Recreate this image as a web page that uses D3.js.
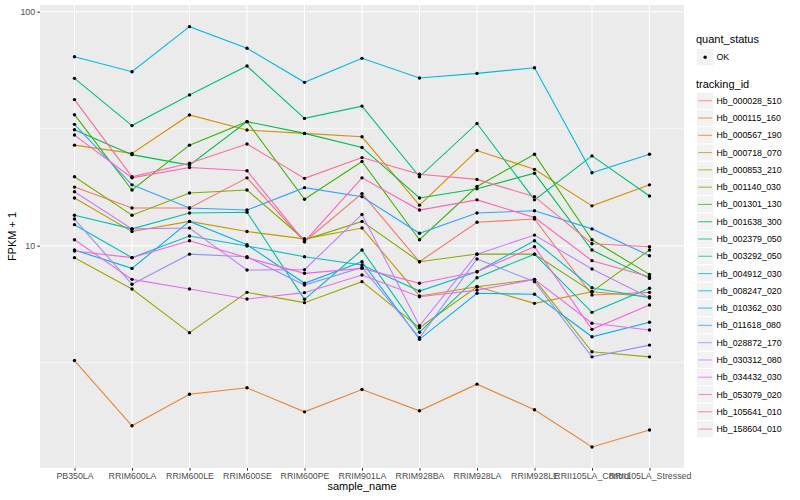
<!DOCTYPE html>
<html>
<head>
<meta charset="utf-8">
<script src="https://d3js.org/d3.v7.min.js"></script>
<style>
  body { margin: 0; background: #fff; }
  text { font-family: "Liberation Sans", Arial, Helvetica, sans-serif; }
</style>
</head>
<body>
<svg id="chart" width="800" height="500"></svg>
<script>
// samples on the x axis
const samples = ["PB350LA", "RRIM600LA", "RRIM600LE", "RRIM600SE", "RRIM600PE", "RRIM901LA",
  "RRIM928BA", "RRIM928LA", "RRIM928LE", "RRII105LA_Control", "RRII105LA_Stressed"];

const trackingIds = ["Hb_000028_510", "Hb_000115_160", "Hb_000567_190", "Hb_000718_070", "Hb_000853_210",
  "Hb_001140_030", "Hb_001301_130", "Hb_001638_300", "Hb_002379_050", "Hb_003292_050",
  "Hb_004912_030", "Hb_008247_020", "Hb_010362_030", "Hb_011618_080", "Hb_028872_170",
  "Hb_030312_080", "Hb_034432_030", "Hb_053079_020", "Hb_105641_010", "Hb_158604_010"];

// FPKM + 1, one array per gene, in sample order
const hb_000028_510 = [17.8, 14.5, 14.5, 19.5, 10.4, 16.7, 8.54, 12.6, 13.0, 6.16, 6.32];
const hb_000115_160 = [3.23, 1.70, 2.32, 2.47, 1.95, 2.43, 1.97, 2.56, 1.99, 1.38, 1.63];
const hb_000567_190 = [26.9, 24.8, 36.2, 31.2, 30.2, 29.2, 14.9, 25.5, 21.2, 14.8, 18.2];
const hb_000718_070 = [16.0, 11.5, 12.7, 11.5, 10.7, 11.9, 6.10, 6.68, 5.67, 6.36, 6.05];
const hb_000853_210 = [8.89, 6.53, 4.25, 6.32, 5.71, 7.02, 4.46, 6.68, 7.18, 3.52, 3.35];
const hb_001140_030 = [19.7, 13.5, 16.8, 17.3, 10.6, 12.7, 8.54, 9.21, 9.20, 6.36, 9.58];
const hb_001301_130 = [36.3, 17.3, 26.9, 33.9, 15.8, 22.9, 10.6, 17.9, 24.6, 10.6, 7.54];
const hb_001638_300 = [31.3, 24.5, 22.1, 33.9, 30.2, 26.3, 16.0, 17.5, 20.4, 9.58, 7.25];
const hb_002379_050 = [51.9, 32.6, 44.1, 58.6, 35.0, 39.5, 19.7, 33.3, 15.7, 24.2, 16.3];
const hb_003292_050 = [13.5, 11.8, 13.8, 13.9, 5.90, 9.58, 4.27, 7.30, 9.20, 5.19, 6.58];
const hb_004912_030 = [12.3, 8.89, 11.0, 9.97, 8.97, 8.27, 6.40, 7.74, 10.5, 6.61, 5.99];
const hb_008247_020 = [64.2, 55.4, 86.3, 69.8, 49.9, 63.2, 52.1, 54.5, 57.6, 20.5, 24.6];
const hb_010362_030 = [9.58, 8.00, 12.7, 10.1, 6.91, 8.54, 3.98, 6.26, 6.20, 4.08, 4.71];
const hb_011618_080 = [33.0, 18.2, 14.5, 14.2, 17.7, 16.2, 11.3, 13.8, 14.1, 11.8, 9.06];
const hb_028872_170 = [13.0, 6.84, 9.20, 8.97, 6.79, 8.08, 4.04, 8.77, 7.02, 3.35, 3.76];
const hb_030312_080 = [17.0, 11.8, 11.9, 7.87, 7.90, 13.6, 4.55, 9.20, 11.1, 7.95, 5.99];
const hb_034432_030 = [10.6, 7.18, 6.53, 5.92, 6.30, 7.49, 6.05, 6.46, 7.18, 4.66, 4.36];
const hb_053079_020 = [9.49, 8.89, 10.5, 8.89, 7.62, 8.00, 6.91, 7.74, 9.90, 4.39, 5.58];
const hb_105641_010 = [29.7, 19.5, 21.6, 20.9, 10.4, 19.5, 14.2, 15.7, 13.2, 8.63, 7.37];
const hb_158604_010 = [42.1, 19.7, 22.5, 27.2, 19.4, 23.8, 20.2, 19.2, 16.2, 10.2, 9.90];

const geneValues = [hb_000028_510, hb_000115_160, hb_000567_190, hb_000718_070, hb_000853_210,
  hb_001140_030, hb_001301_130, hb_001638_300, hb_002379_050, hb_003292_050,
  hb_004912_030, hb_008247_020, hb_010362_030, hb_011618_080, hb_028872_170,
  hb_030312_080, hb_034432_030, hb_053079_020, hb_105641_010, hb_158604_010];

const yTicks = [10, 100];
const yMinor = [Math.sqrt(10), 10 * Math.sqrt(10)];

// ggplot default hue palette for 20 levels
const hueColors = ["#F8766D", "#EA8331", "#D89000", "#C09B00", "#A3A500", "#7CAE00", "#39B600",
  "#00BB4E", "#00BF7D", "#00C1A3", "#00BFC4", "#00BAE0", "#00B0F6", "#35A2FF", "#9590FF",
  "#C77CFF", "#E76BF3", "#FA62DB", "#FF62BC", "#FF6C91"];

const series = trackingIds.map((id, i) => ({
  id: id,
  color: hueColors[i],
  points: samples.map((s, j) => ({ sample: s, value: geneValues[i][j] }))
}));

const svg = d3.select("#chart");
const panel = { left: 40, right: 684, top: 5, bottom: 468 };

const x = d3.scalePoint().domain(samples).range([panel.left, panel.right]).padding(0.6);
const y = d3.scaleLog().domain([Math.pow(10, 0.05), Math.pow(10, 2.02863)]).range([panel.bottom, panel.top]);

// panel background
svg.append("rect")
  .attr("x", panel.left).attr("y", panel.top)
  .attr("width", panel.right - panel.left).attr("height", panel.bottom - panel.top)
  .attr("fill", "#EBEBEB");

// grid
const grid = svg.append("g");
grid.selectAll(".minor").data(yMinor).enter().append("line")
  .attr("x1", panel.left).attr("x2", panel.right)
  .attr("y1", d => y(d)).attr("y2", d => y(d))
  .attr("stroke", "#fff").attr("stroke-width", 0.55);
grid.selectAll(".major").data(yTicks).enter().append("line")
  .attr("x1", panel.left).attr("x2", panel.right)
  .attr("y1", d => y(d)).attr("y2", d => y(d))
  .attr("stroke", "#fff").attr("stroke-width", 1.1);
grid.selectAll(".vert").data(samples).enter().append("line")
  .attr("x1", d => x(d)).attr("x2", d => x(d))
  .attr("y1", panel.top).attr("y2", panel.bottom)
  .attr("stroke", "#fff").attr("stroke-width", 1.1);

// lines
const line = d3.line().x(d => x(d.sample)).y(d => y(d.value));
svg.append("g").selectAll("path").data(series).enter().append("path")
  .attr("d", d => line(d.points))
  .attr("fill", "none")
  .attr("stroke", d => d.color)
  .attr("stroke-width", 1.1);

// points
svg.append("g").selectAll("circle")
  .data(series.flatMap(s => s.points))
  .enter().append("circle")
  .attr("cx", d => x(d.sample))
  .attr("cy", d => y(d.value))
  .attr("r", 1.7)
  .attr("fill", "#000");

// axes
const yAxis = svg.append("g")
  .attr("transform", `translate(${panel.left},0)`)
  .call(d3.axisLeft(y).tickValues(yTicks).tickFormat(d3.format("d")).tickSize(2.7).tickPadding(2.2));
const xAxis = svg.append("g")
  .attr("transform", `translate(0,${panel.bottom})`)
  .call(d3.axisBottom(x).tickSize(2.7).tickPadding(2.2));

[yAxis, xAxis].forEach(a => {
  a.select(".domain").remove();
  a.selectAll(".tick line").attr("stroke", "#333").attr("stroke-width", 1);
  a.selectAll(".tick text").attr("fill", "#4D4D4D").style("font-size", "8.8px")
    .style("font-family", "'Liberation Sans', Arial, sans-serif");
});

// axis titles
svg.append("text")
  .attr("x", (panel.left + panel.right) / 2).attr("y", 490)
  .attr("text-anchor", "middle").style("font-size", "11px")
  .text("sample_name");
svg.append("text")
  .attr("transform", `translate(15.5,${(panel.top + panel.bottom) / 2}) rotate(-90)`)
  .attr("text-anchor", "middle").style("font-size", "11px")
  .text("FPKM + 1");

// legend
const legend = svg.append("g").attr("transform", "translate(696,0)");
const keySize = 17.28;

legend.append("text").attr("x", 0).attr("y", 43).style("font-size", "11px").text("quant_status");
legend.append("rect").attr("x", 0.5).attr("y", 48.6).attr("width", keySize).attr("height", keySize)
  .attr("fill", "#F2F2F2").attr("stroke", "#fff");
legend.append("circle").attr("cx", 0.5 + keySize / 2).attr("cy", 48.6 + keySize / 2).attr("r", 1.7).attr("fill", "#000");
legend.append("text").attr("x", 20.5).attr("y", 48.6 + keySize / 2).attr("dy", "0.35em")
  .style("font-size", "8.8px").text("OK");

legend.append("text").attr("x", 0).attr("y", 88).style("font-size", "11px").text("tracking_id");
const keys = legend.selectAll(".key").data(series).enter().append("g")
  .attr("transform", (d, i) => `translate(0.5,${92.1 + i * keySize})`);
keys.append("rect").attr("width", keySize).attr("height", keySize)
  .attr("fill", "#F2F2F2").attr("stroke", "#fff");
keys.append("line").attr("x1", 1.7).attr("x2", keySize - 1.7)
  .attr("y1", keySize / 2).attr("y2", keySize / 2)
  .attr("stroke", d => d.color).attr("stroke-width", 1.1).attr("stroke-opacity", 0.75);
keys.append("text").attr("x", 20).attr("y", keySize / 2).attr("dy", "0.35em")
  .style("font-size", "8.8px").text(d => d.id);
</script>
</body>
</html>
